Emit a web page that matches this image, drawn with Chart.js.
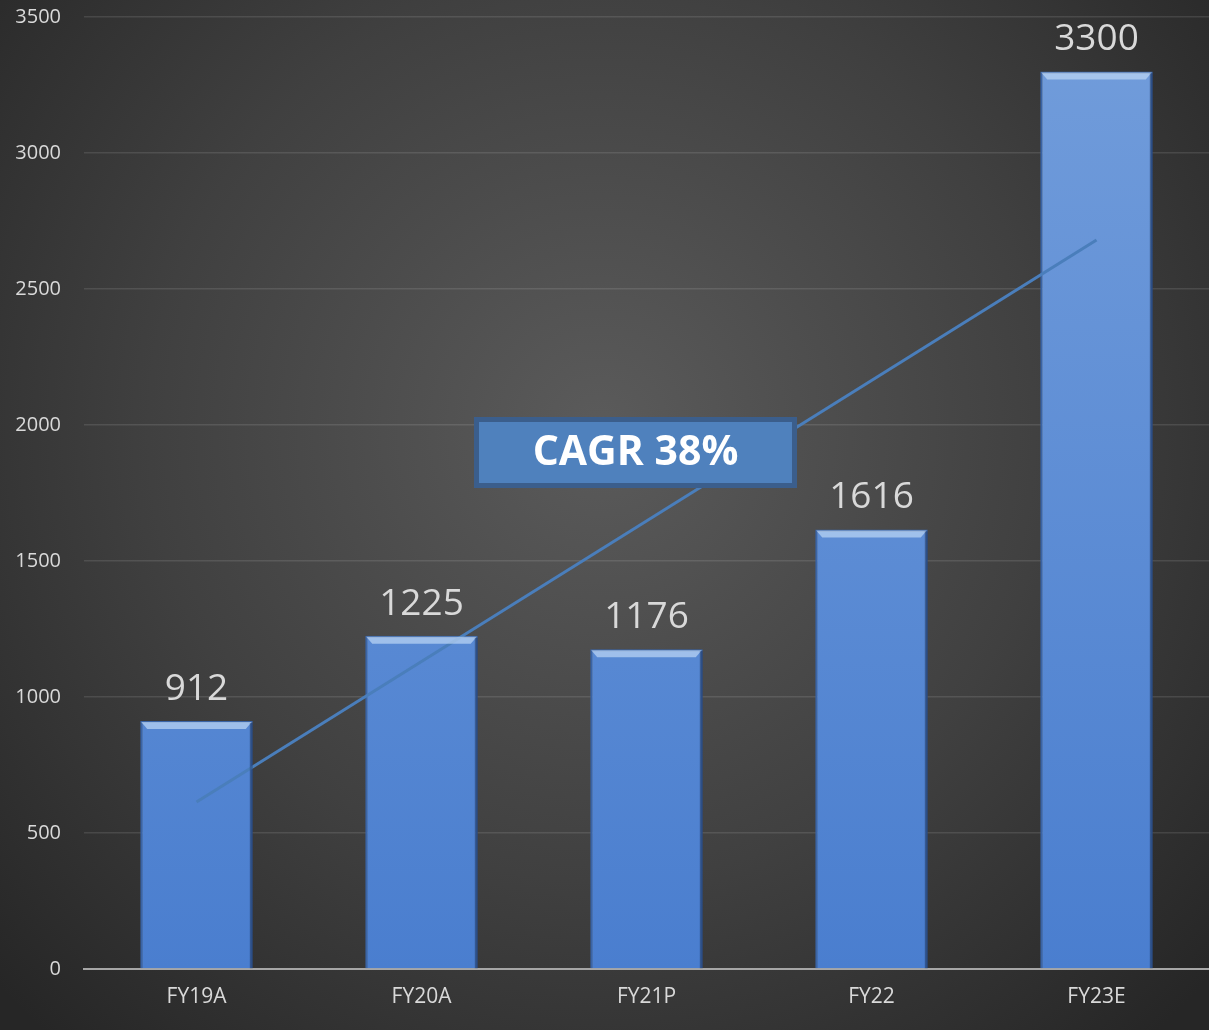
<!DOCTYPE html>
<html>
<head>
<meta charset="utf-8">
<script src="https://cdn.jsdelivr.net/npm/chart.js@4.4.1/dist/chart.umd.min.js"></script>
<style>
  html, body { margin: 0; padding: 0; background: #2a2a2a; }
  #wrap { width: 1209px; height: 1030px; position: relative; }
</style>
</head>
<body>
<div id="wrap"><canvas id="c" width="1209" height="1030"></canvas></div>
<script>
const categories = ['FY19A', 'FY20A', 'FY21P', 'FY22', 'FY23E'];
const revenue = [912, 1225, 1176, 1616, 3300];
const trendline = [614, null, null, null, 2680];
const yTicks = [0, 500, 1000, 1500, 2000, 2500, 3000, 3500];
const cagrLabel = 'CAGR 38%';

const bgPlugin = {
  id: 'bg',
  beforeDraw(chart) {
    const ctx = chart.ctx;
    const w = chart.width, h = chart.height;
    ctx.save();
    const g = ctx.createRadialGradient(600, 430, 0, 600, 430, 820);
    g.addColorStop(0, '#5b5b5b');
    g.addColorStop(0.55, '#404040');
    g.addColorStop(1, '#262626');
    ctx.fillStyle = g;
    ctx.fillRect(0, 0, w, h);
    ctx.restore();
  }
};

const barDecor = {
  id: 'barDecor',
  afterDatasetsDraw(chart) {
    const ctx = chart.ctx;
    const meta = chart.getDatasetMeta(1);
    ctx.save();
    meta.data.forEach((bar, i) => {
      const left = bar.x - bar.width / 2, right = bar.x + bar.width / 2;
      const top = bar.y;
      ctx.beginPath();
      ctx.moveTo(left + 1, top + 1);
      ctx.lineTo(right - 1, top + 1);
      ctx.lineTo(right - 7, top + 8);
      ctx.lineTo(left + 7, top + 8);
      ctx.closePath();
      ctx.fillStyle = 'rgba(190,215,245,0.7)';
      ctx.fill();
      ctx.fillStyle = 'rgba(20,40,80,0.35)';
      ctx.fillRect(right - 3, top + 2, 3, bar.base - top - 2);
      ctx.fillStyle = '#d9d9d9';
      ctx.font = '37px "Open Sans"';
      ctx.textAlign = 'center';
      ctx.textBaseline = 'alphabetic';
      ctx.fillText(String(revenue[i]), bar.x, top - 21);
    });
    ctx.restore();
  },
  afterDraw(chart) {
    const ctx = chart.ctx;
    const x = 474, y = 417, w = 323, h = 71;
    ctx.save();
    ctx.fillStyle = '#4f81bd';
    ctx.fillRect(x, y, w, h);
    ctx.strokeStyle = '#3b5e8c';
    ctx.lineWidth = 5;
    ctx.strokeRect(x + 2.5, y + 2.5, w - 5, h - 5);
    ctx.fillStyle = '#ffffff';
    ctx.font = 'bold 41px "Open Sans"';
    ctx.textAlign = 'center';
    ctx.textBaseline = 'middle';
    ctx.fillText(cagrLabel, x + w / 2, y + h / 2 + 1);
    ctx.restore();
  }
};

function barGradient(context) {
  const chart = context.chart;
  const area = chart.chartArea;
  if (!area) return '#4f81bd';
  const g = chart.ctx.createLinearGradient(0, area.top, 0, area.bottom);
  g.addColorStop(0, '#729ddb');
  g.addColorStop(1, '#4a7ecf');
  return g;
}

new Chart(document.getElementById('c'), {
  data: {
    labels: categories,
    datasets: [
      {
        type: 'line',
        data: trendline,
        spanGaps: true,
        borderColor: '#4a7ebb',
        borderWidth: 3,
        pointRadius: 0,
        order: 0
      },
      {
        type: 'bar',
        data: revenue,
        backgroundColor: barGradient,
        borderColor: '#3a64a6',
        borderWidth: 2,
        categoryPercentage: 1,
        barPercentage: 0.5,
        order: 1
      }
    ]
  },
  options: {
    responsive: false,
    animation: false,
    events: [],
    layout: { padding: { top: 17, right: 0, left: 0, bottom: 0 } },
    plugins: { legend: { display: false }, tooltip: { enabled: false } },
    scales: {
      x: {
        grid: { display: false, drawTicks: false },
        border: { display: true, color: '#a6a6a6', width: 2 },
        ticks: { color: '#d9d9d9', font: { family: 'Open Sans', size: 21 }, padding: 15 },
        afterFit(s) { s.height = 61; s.paddingLeft = 0; s.paddingRight = 0; }
      },
      y: {
        min: 0, max: 3500,
        afterBuildTicks(s) { s.ticks = yTicks.map(v => ({ value: v })); },
        grid: { color: 'rgba(255,255,255,0.11)', lineWidth: 1.5, drawTicks: false },
        border: { display: false },
        ticks: { color: '#d9d9d9', font: { family: 'Open Sans', size: 20 }, padding: 23,
                 callback: v => String(v) },
        afterFit(s) { s.width = 84; s.paddingTop = 0; s.paddingBottom = 0; }
      }
    }
  },
  plugins: [bgPlugin, barDecor]
});
</script>
</body>
</html>
